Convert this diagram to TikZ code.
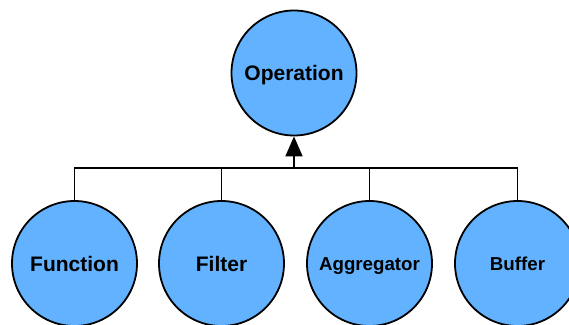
\documentclass[tikz,border=0pt]{standalone}
\usepackage{fontspec}
\setmainfont{Liberation Sans}
\usetikzlibrary{arrows.meta}
\definecolor{cfill}{RGB}{98,178,255}
\tikzset{
  cls/.style={circle,draw=black,line width=1.8pt,fill=cfill,minimum size=125pt,inner sep=0pt,text height=15pt,text depth=0pt,font=\fontsize{21}{24}\selectfont\bfseries},
  clsS/.style={cls,text height=13.4pt,font=\fontsize{18.7}{22}\selectfont\bfseries},
  conn/.style={draw=black,line width=1.8pt},
}
\begin{document}
\begin{tikzpicture}[x=1pt,y=-1pt]
\useasboundingbox (0,0) rectangle (569,324);
\clip (0,0) rectangle (569,324);
\fill[white] (0,0) rectangle (569,324);
\node[cls] (op) at (294,73) {Operation};
\node[cls] (func) at (74.5,263.5) {Function};
\node[cls] (filt) at (221.5,263.5) {Filter};
\node[clsS] (agg) at (369.5,263.5) {Aggregator};
\node[clsS] (buf) at (517.5,263.5) {Buffer};
\coordinate (bus) at (294,168);
\draw[conn] (func.north) -- (func.north|-bus) -- (buf.north|-bus) -- (buf.north);
\draw[conn] (filt.north) -- (filt.north|-bus);
\draw[conn] (agg.north) -- (agg.north|-bus);
\draw[conn,-{Triangle[width=17pt,length=20pt]}] (bus) -- (op.south);
\end{tikzpicture}
\end{document}
